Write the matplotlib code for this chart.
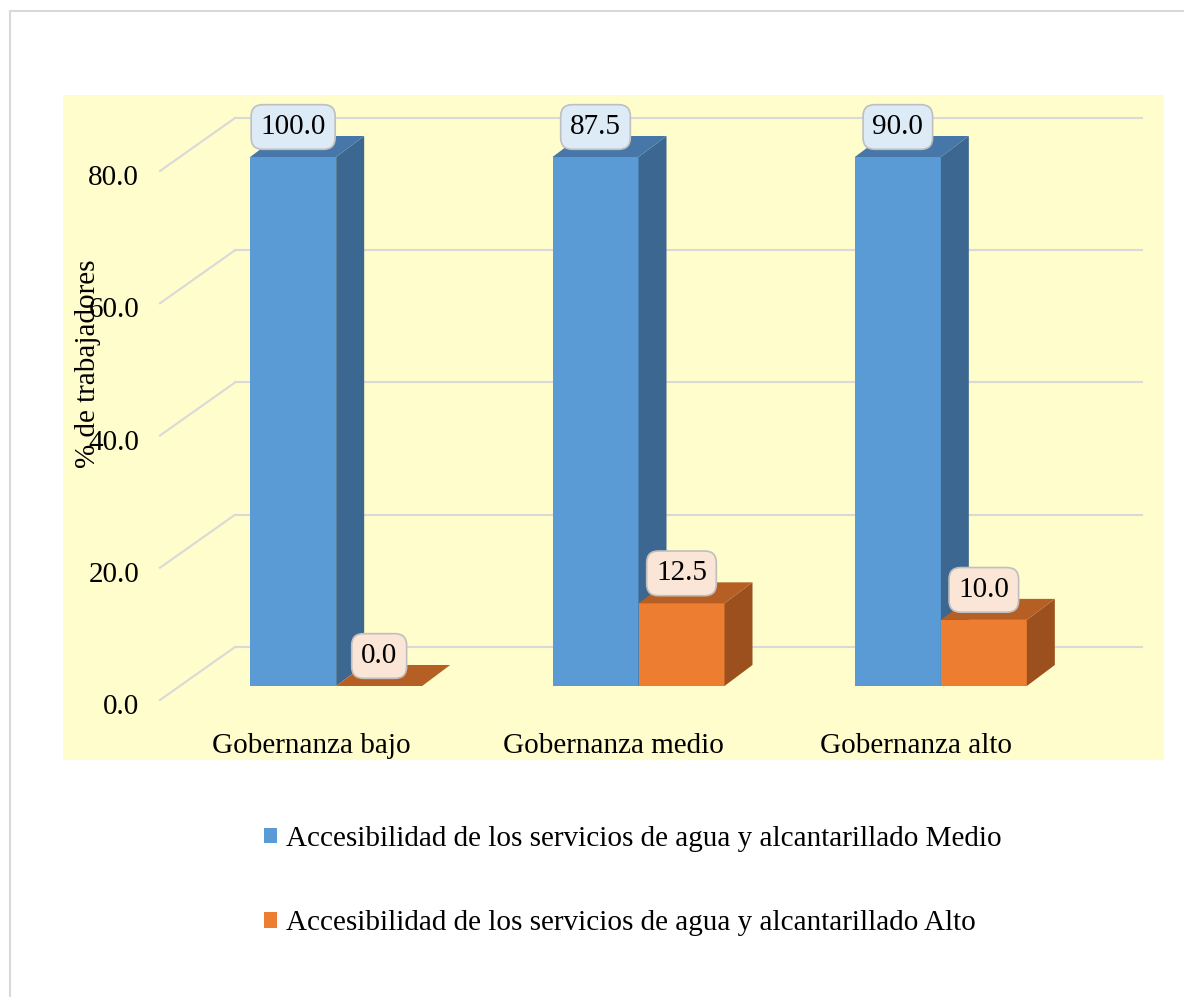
import matplotlib.pyplot as plt
import matplotlib.transforms as mtransforms
from matplotlib.patches import Polygon, Rectangle
from matplotlib.lines import Line2D

categories = ["Gobernanza bajo", "Gobernanza medio", "Gobernanza alto"]
medio = [100.0, 87.5, 90.0]
alto = [0.0, 12.5, 10.0]
series_names = ["Accesibilidad de los servicios de agua y alcantarillado Medio",
                "Accesibilidad de los servicios de agua y alcantarillado Alto"]
yticks = [0, 20, 40, 60, 80]

plt.rcParams['font.family'] = ['Liberation Serif', 'DejaVu Serif']
FS = 21

W, H = 1184, 997
fig = plt.figure(figsize=(W / 100, H / 100), dpi=100)

# plot area background + figure border
fig.add_artist(Rectangle((63 / W, 1 - 760 / H), (1164 - 63) / W, (760 - 95) / H,
                         transform=fig.transFigure, facecolor="#FFFDCB", edgecolor="none", zorder=-10))
fig.add_artist(Line2D([10 / W, 1], [1 - 11 / H, 1 - 11 / H], transform=fig.transFigure, color="#D9D9D9", lw=1.5))
fig.add_artist(Line2D([10 / W, 10 / W], [0, 1 - 11 / H], transform=fig.transFigure, color="#D9D9D9", lw=1.5))

ax = fig.add_axes([160 / W, 1 - 700 / H, 907 / W, 529 / H])
ax.patch.set_alpha(0)
ymax = 80
ax.set_xlim(-0.5, 2.5)
ax.set_ylim(0, ymax)
px_x = 3 / 907
px_y = ymax / 529

# 3d offsets (in data units)
back_dx, back_dy = 75 * px_x, 53 * px_y
off_dx, off_dy = 25 * px_x, 14 * px_y
dep_dx, dep_dy = 28 * px_x, 21 * px_y
bw = 86 * px_x
lab_dy = 30 * px_y

# back wall gridlines + left diagonals
for t in yticks:
    ax.plot([-0.5 + back_dx, 2.5 + back_dx], [t + back_dy, t + back_dy], color="#D9D9D9", lw=1.5, zorder=1, clip_on=False)
    ax.plot([-0.5, -0.5 + back_dx], [t, t + back_dy], color="#D9D9D9", lw=1.5, zorder=1, clip_on=False)

styles = [("#5B9BD5", "#3B6790", "#4677A8", "#DDEBF7"),
          ("#ED7D31", "#9C501E", "#B55F24", "#FBE5D6")]

handles = []
for s, vals in enumerate([medio, alto]):
    front, side, top, boxc = styles[s]
    xs = [i + off_dx - bw + s * bw + bw / 2 for i in range(len(categories))]
    hs = [min(v, ymax) for v in vals]
    bars = ax.bar(xs, hs, width=bw, bottom=off_dy, color=front, zorder=3 + s, clip_on=False)
    handles.append(bars)
    for x, h, v in zip(xs, hs, vals):
        x0, x1 = x - bw / 2, x + bw / 2
        y0, y1 = off_dy, off_dy + h
        ax.add_patch(Polygon([(x1, y0), (x1 + dep_dx, y0 + dep_dy), (x1 + dep_dx, y1 + dep_dy), (x1, y1)],
                             facecolor=side, edgecolor="none", zorder=3 + s, clip_on=False))
        ax.add_patch(Polygon([(x0, y1), (x0 + dep_dx, y1 + dep_dy), (x1 + dep_dx, y1 + dep_dy), (x1, y1)],
                             facecolor=top, edgecolor="none", zorder=3 + s, clip_on=False))
        ax.text(x, y1 + lab_dy, f"{v:.1f}", ha="center", va="center", fontsize=FS, zorder=10,
                bbox=dict(boxstyle="round,pad=0.32,rounding_size=0.4", facecolor=boxc, edgecolor="#BFBFBF", lw=1.2))

ax.set_xticks(range(len(categories)))
ax.set_xticklabels(categories, fontsize=FS)
ax.set_yticks(yticks)
ax.set_yticklabels([f"{t:.1f}" for t in yticks], fontsize=FS)
ax.tick_params(length=0)
ax.tick_params(axis="x", pad=24)
ax.tick_params(axis="y", pad=15)
shift = mtransforms.ScaledTranslation(0, -4 / 100, fig.dpi_scale_trans)
for lbl in ax.get_yticklabels():
    lbl.set_transform(lbl.get_transform() + shift)
for sp in ax.spines.values():
    sp.set_visible(False)

fig.text(88 / W, 1 - 364 / H, "% de trabajadores", rotation=90, ha="center", va="center", fontsize=FS)

fig.legend([h[0] for h in handles], series_names, loc="center", bbox_to_anchor=(633 / W, 1 - 881 / H),
           frameon=False, fontsize=FS, handlelength=0.45, handleheight=0.45, handletextpad=0.3, labelspacing=2.0)

fig.savefig("out.png", dpi=100)
